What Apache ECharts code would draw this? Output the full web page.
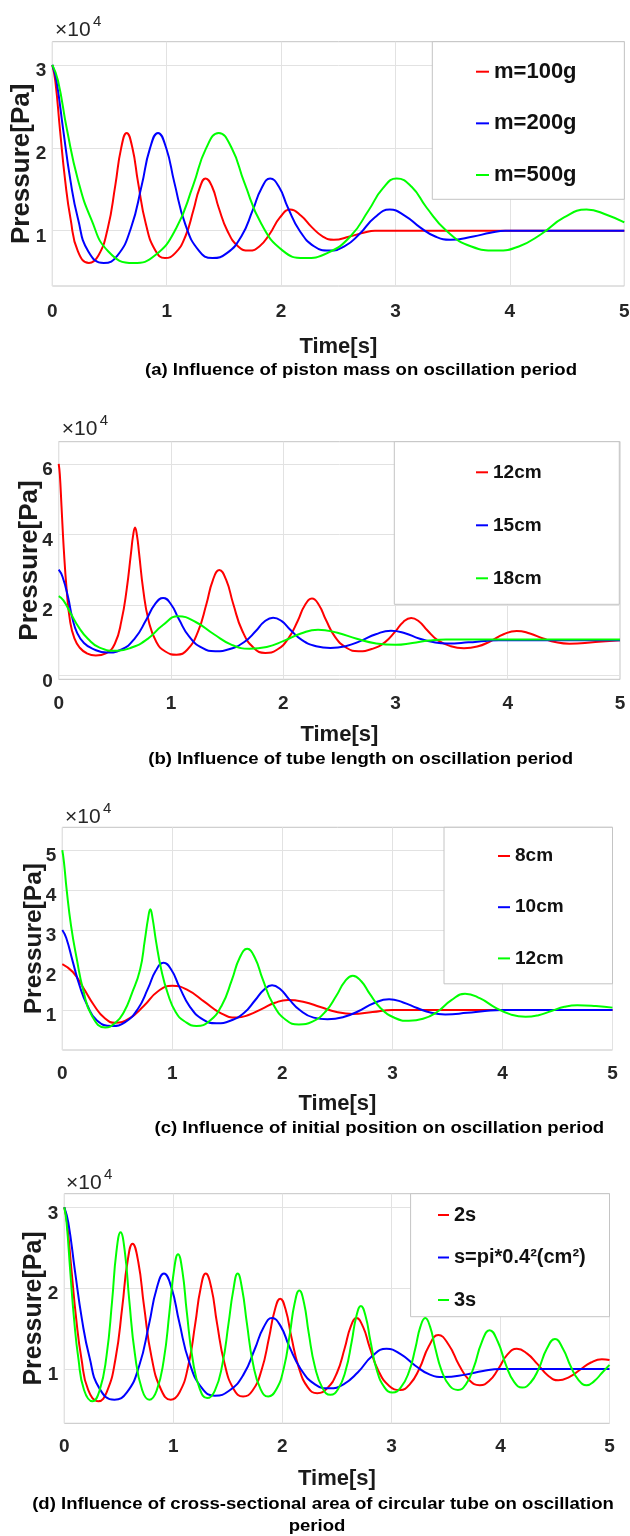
<!DOCTYPE html>
<html>
<head>
<meta charset="utf-8">
<script src="https://cdn.jsdelivr.net/npm/echarts@6/dist/echarts.min.js"></script>
<style>
html,body{margin:0;padding:0;background:#fff;}
#chart{width:630px;height:1536px;}
</style>
</head>
<body>
<div id="chart"></div>
<script>
// ---- values in units of 10^4 Pa, time in s ----
const xTicks = [0, 1, 2, 3, 4, 5];
const yTicksA = [1, 2, 3];
const yTicksB = [0, 2, 4, 6];
const yTicksC = [1, 2, 3, 4, 5];
const yTicksD = [1, 2, 3];

const legendA = ['m=100g', 'm=200g', 'm=500g'];
const legendB = ['12cm', '15cm', '18cm'];
const legendC = ['8cm', '10cm', '12cm'];
const legendD = ['2s', 's=pi*0.4\u00b2(cm\u00b2)', '3s'];

const captions = [
  '(a) Influence of piston mass on oscillation period',
  '(b) Influence of tube length on oscillation period',
  '(c) Influence of initial position on oscillation period',
  '(d) Influence of cross-sectional area of circular tube on oscillation',
  'period'
];

// (a) piston mass
const redA = [[0,3.0],[0.026,2.81],[0.067,2.22],[0.112,1.61],[0.16,1.14],[0.224,0.75],[0.32,0.61],[0.403,0.70],[0.485,1.03],[0.551,1.55],[0.601,1.99],[0.65,2.18],[0.70,2.0],[0.75,1.58],[0.818,1.08],[0.901,0.76],[0.985,0.67],[1.074,0.73],[1.163,0.93],[1.234,1.25],[1.287,1.51],[1.34,1.63],[1.397,1.53],[1.454,1.28],[1.53,1.0],[1.625,0.81],[1.72,0.76],[1.81,0.81],[1.9,0.96],[1.99,1.16],[2.08,1.255],[2.175,1.18],[2.27,1.04],[2.365,0.93],[2.46,0.89],[2.6,0.93],[2.72,0.975],[2.82,1.0],[3.0,1.0],[5.0,1.0]];
const blueA = [[0,3.0],[0.036,2.81],[0.095,2.22],[0.158,1.61],[0.225,1.14],[0.315,0.75],[0.45,0.61],[0.569,0.70],[0.687,1.03],[0.782,1.55],[0.853,1.99],[0.924,2.18],[0.995,2.0],[1.067,1.58],[1.162,1.08],[1.281,0.76],[1.4,0.67],[1.526,0.73],[1.652,0.93],[1.753,1.25],[1.828,1.51],[1.904,1.63],[1.981,1.53],[2.059,1.28],[2.162,1.0],[2.291,0.81],[2.42,0.76],[2.553,0.81],[2.685,0.96],[2.818,1.16],[2.95,1.255],[3.083,1.18],[3.215,1.04],[3.348,0.93],[3.48,0.89],[3.68,0.93],[3.83,0.975],[3.96,1.0],[5.0,1.0]];
const greenA = [[0,3.0],[0.05,2.81],[0.128,2.22],[0.225,1.61],[0.34,1.14],[0.49,0.75],[0.71,0.61],[0.896,0.70],[1.083,1.03],[1.232,1.55],[1.343,1.99],[1.455,2.18],[1.567,2.0],[1.679,1.58],[1.828,1.08],[2.014,0.76],[2.2,0.67],[2.403,0.73],[2.605,0.93],[2.767,1.25],[2.889,1.51],[3.01,1.63],[3.141,1.53],[3.271,1.28],[3.445,1.0],[3.663,0.81],[3.88,0.76],[4.078,0.81],[4.275,0.96],[4.473,1.16],[4.67,1.255],[4.85,1.19],[5.0,1.10]];

// (b) tube length
const redB = [[0,6.0],[0.01,5.7],[0.025,4.8],[0.045,3.6],[0.071,2.43],[0.1,1.57],[0.14,1.05],[0.19,0.78],[0.25,0.63],[0.33,0.57],[0.42,0.63],[0.5,0.9],[0.56,1.57],[0.605,2.43],[0.645,3.5],[0.662,3.95],[0.68,4.2],[0.698,3.95],[0.715,3.5],[0.753,2.43],[0.8,1.57],[0.87,0.95],[0.95,0.68],[1.05,0.59],[1.145,0.73],[1.24,1.24],[1.316,2.03],[1.373,2.7],[1.43,2.99],[1.492,2.71],[1.553,2.05],[1.635,1.27],[1.738,0.78],[1.84,0.64],[1.944,0.73],[2.048,1.06],[2.131,1.56],[2.194,2.0],[2.256,2.18],[2.318,2.0],[2.38,1.58],[2.463,1.09],[2.566,0.78],[2.67,0.69],[2.788,0.75],[2.905,0.94],[2.999,1.25],[3.07,1.52],[3.14,1.63],[3.21,1.53],[3.281,1.29],[3.375,1.005],[3.493,0.83],[3.61,0.775],[3.728,0.82],[3.845,0.97],[3.963,1.17],[4.08,1.265],[4.198,1.19],[4.315,1.05],[4.433,0.94],[4.55,0.9],[4.78,0.95],[5.0,1.0]];
const blueB = [[0,3.0],[0.034,2.8],[0.085,2.2],[0.12,1.65],[0.165,1.2],[0.225,0.92],[0.3,0.76],[0.43,0.65],[0.555,0.73],[0.68,1.06],[0.78,1.58],[0.855,2.01],[0.93,2.2],[1.0,2.02],[1.07,1.6],[1.163,1.1],[1.279,0.78],[1.395,0.69],[1.524,0.75],[1.653,0.95],[1.756,1.26],[1.833,1.53],[1.91,1.64],[1.987,1.54],[2.063,1.3],[2.165,1.01],[2.293,0.83],[2.42,0.78],[2.555,0.83],[2.69,0.98],[2.825,1.17],[2.96,1.27],[3.085,1.2],[3.21,1.05],[3.335,0.95],[3.46,0.91],[3.65,0.94],[3.8,0.98],[3.92,1.0],[5.0,1.0]];
const greenB = [[0,2.25],[0.042,2.13],[0.109,1.75],[0.182,1.35],[0.26,1.04],[0.364,0.79],[0.52,0.70],[0.656,0.80],[0.793,1.04],[0.929,1.43],[1.065,1.68],[1.224,1.51],[1.383,1.17],[1.541,0.87],[1.70,0.76],[1.853,0.81],[2.005,0.98],[2.158,1.19],[2.31,1.30],[2.483,1.21],[2.655,1.04],[2.828,0.91],[3.0,0.87],[3.15,0.92],[3.3,0.99],[3.45,1.02],[5.0,1.02]];

// (c) initial position
const redC = [[0,2.15],[0.096,1.95],[0.192,1.55],[0.288,1.12],[0.384,0.8],[0.48,0.68],[0.61,0.79],[0.74,1.10],[0.87,1.47],[1.0,1.61],[1.145,1.49],[1.29,1.21],[1.435,0.93],[1.58,0.81],[1.698,0.88],[1.815,1.03],[1.933,1.18],[2.05,1.25],[2.198,1.2],[2.345,1.075],[2.493,0.95],[2.64,0.9],[2.82,0.95],[3.0,1.0],[5.0,1.0]];
const blueC = [[0,3.0],[0.036,2.8],[0.095,2.21],[0.158,1.6],[0.225,1.13],[0.315,0.74],[0.45,0.60],[0.568,0.69],[0.685,1.02],[0.779,1.54],[0.849,1.98],[0.92,2.18],[0.992,2.0],[1.064,1.58],[1.16,1.08],[1.28,0.76],[1.40,0.67],[1.527,0.73],[1.653,0.93],[1.754,1.25],[1.83,1.5],[1.906,1.62],[1.982,1.52],[2.058,1.28],[2.158,1.0],[2.284,0.81],[2.41,0.77],[2.55,0.82],[2.69,0.97],[2.83,1.17],[2.97,1.27],[3.098,1.19],[3.225,1.05],[3.353,0.93],[3.48,0.89],[3.68,0.93],[3.84,0.975],[4.0,1.0],[5.0,1.0]];
const greenC = [[0,5.0],[0.015,4.7],[0.04,4.0],[0.08,3.1],[0.13,2.3],[0.19,1.5],[0.27,0.85],[0.39,0.56],[0.49,0.7],[0.56,0.95],[0.63,1.4],[0.706,2.0],[0.75,2.75],[0.78,3.3],[0.80,3.52],[0.82,3.3],[0.85,2.75],[0.90,2.0],[0.96,1.4],[1.03,0.95],[1.11,0.72],[1.22,0.60],[1.335,0.72],[1.45,1.12],[1.542,1.76],[1.611,2.3],[1.68,2.53],[1.751,2.3],[1.821,1.77],[1.915,1.15],[2.033,0.75],[2.15,0.64],[2.273,0.71],[2.395,0.97],[2.493,1.37],[2.567,1.71],[2.64,1.86],[2.717,1.72],[2.793,1.41],[2.895,1.04],[3.023,0.80],[3.15,0.73],[3.278,0.78],[3.405,0.95],[3.533,1.24],[3.66,1.41],[3.798,1.29],[3.935,1.06],[4.073,0.89],[4.21,0.83],[4.328,0.87],[4.445,0.975],[4.563,1.08],[4.68,1.12],[4.85,1.1],[5.0,1.06]];

// (d) cross-sectional area
const redD = [[0,3.0],[0.025,2.81],[0.066,2.22],[0.11,1.61],[0.157,1.13],[0.219,0.74],[0.313,0.6],[0.391,0.72],[0.47,1.13],[0.532,1.77],[0.579,2.32],[0.626,2.55],[0.679,2.32],[0.731,1.78],[0.801,1.14],[0.889,0.74],[0.976,0.62],[1.056,0.71],[1.137,1.04],[1.201,1.56],[1.249,1.99],[1.297,2.18],[1.349,2.0],[1.4,1.57],[1.469,1.07],[1.554,0.75],[1.64,0.66],[1.725,0.73],[1.81,0.99],[1.878,1.39],[1.929,1.72],[1.98,1.87],[2.031,1.73],[2.082,1.40],[2.15,1.02],[2.235,0.77],[2.32,0.70],[2.41,0.76],[2.50,0.95],[2.572,1.26],[2.626,1.52],[2.68,1.63],[2.74,1.52],[2.80,1.27],[2.88,0.98],[2.98,0.79],[3.08,0.74],[3.168,0.81],[3.255,1.0],[3.343,1.28],[3.43,1.42],[3.525,1.30],[3.62,1.05],[3.715,0.86],[3.81,0.80],[3.895,0.85],[3.98,1.0],[4.065,1.18],[4.15,1.25],[4.245,1.19],[4.34,1.06],[4.435,0.92],[4.53,0.86],[4.63,0.9],[4.73,0.99],[4.83,1.08],[4.93,1.12],[5.0,1.11]];
const blueD = [[0,3.0],[0.037,2.81],[0.097,2.22],[0.161,1.62],[0.23,1.15],[0.322,0.76],[0.46,0.62],[0.574,0.71],[0.687,1.04],[0.778,1.56],[0.846,1.99],[0.914,2.18],[0.984,2.0],[1.054,1.58],[1.147,1.08],[1.264,0.76],[1.38,0.67],[1.511,0.73],[1.643,0.93],[1.748,1.25],[1.826,1.51],[1.905,1.63],[1.984,1.53],[2.063,1.28],[2.168,1.0],[2.299,0.81],[2.43,0.76],[2.561,0.81],[2.693,0.96],[2.824,1.16],[2.955,1.25],[3.088,1.18],[3.22,1.04],[3.353,0.93],[3.48,0.90],[3.68,0.93],[3.84,0.975],[4.0,1.0],[5.0,1.0]];
const greenD = [[0,3.0],[0.021,2.81],[0.054,2.22],[0.09,1.61],[0.129,1.13],[0.181,0.74],[0.258,0.6],[0.323,0.73],[0.387,1.16],[0.439,1.85],[0.477,2.44],[0.516,2.69],[0.556,2.44],[0.595,1.86],[0.648,1.18],[0.714,0.74],[0.78,0.62],[0.846,0.73],[0.912,1.11],[0.964,1.70],[1.004,2.20],[1.043,2.42],[1.083,2.21],[1.123,1.71],[1.177,1.12],[1.243,0.75],[1.31,0.64],[1.38,0.73],[1.45,1.06],[1.506,1.56],[1.548,1.96],[1.59,2.18],[1.632,1.98],[1.674,1.57],[1.73,1.07],[1.80,0.75],[1.87,0.66],[1.941,0.74],[2.013,1.01],[2.07,1.45],[2.112,1.81],[2.155,1.97],[2.198,1.82],[2.241,1.45],[2.298,1.03],[2.369,0.76],[2.44,0.68],[2.51,0.75],[2.58,0.98],[2.636,1.34],[2.678,1.65],[2.72,1.78],[2.764,1.65],[2.807,1.35],[2.865,0.99],[2.938,0.77],[3.01,0.71],[3.085,0.77],[3.16,0.96],[3.22,1.26],[3.265,1.52],[3.31,1.63],[3.355,1.52],[3.40,1.27],[3.46,0.98],[3.535,0.79],[3.61,0.74],[3.683,0.81],[3.755,1.02],[3.828,1.33],[3.9,1.48],[3.975,1.34],[4.05,1.05],[4.125,0.84],[4.2,0.77],[4.275,0.83],[4.35,1.0],[4.425,1.25],[4.5,1.37],[4.573,1.25],[4.645,1.03],[4.718,0.86],[4.79,0.80],[4.86,0.85],[4.93,0.95],[5.0,1.05]];

const COLORS = ['#ff0000', '#0000ff', '#00ff00'];
const FONT = '"Liberation Sans", Arial, Helvetica, sans-serif';

// ---- layout (pixels) ----
const panels = [
  { id: 'a', grid: {left: 52.3, top: 41.7, width: 572, height: 244.3}, yMin: 0.333, yMax: 3.28, yTicks: yTicksA,
    xNameGap: 50, labelMargin: 16, yNameGap: 17, yNameSize: 26, names: legendA, data: [redA, blueA, greenA],
    legend: {left: 432.3, top: 41.7, itemWidth: 13, itemGap: 29.65, fontSize: 22, lh: 22, padding: [19, 47.8, 13.3, 43.7]} },
  { id: 'b', grid: {left: 58.7, top: 441.7, width: 561.3, height: 237.6}, yMin: -0.108, yMax: 6.63, yTicks: yTicksB,
    xNameGap: 45, labelMargin: 15, yNameGap: 16, yNameSize: 26, names: legendB, data: [redB, blueB, greenB],
    legend: {left: 394.3, top: 441.7, itemWidth: 12, itemGap: 33, fontSize: 19, lh: 20, padding: [20.6, 77.7, 16, 81.7]} },
  { id: 'c', grid: {left: 62.3, top: 827.3, width: 550.2, height: 222.7}, yMin: 0, yMax: 5.57, yTicks: yTicksC,
    xNameGap: 43, labelMargin: 14, yNameGap: 16, yNameSize: 24.5, names: legendC, data: [redC, blueC, greenC],
    legend: {left: 444, top: 827.3, itemWidth: 12, itemGap: 31.2, fontSize: 19, lh: 20, padding: [18.7, 48.9, 15.4, 54]} },
  { id: 'd', grid: {left: 64.3, top: 1193.7, width: 545.2, height: 229.6}, yMin: 0.328, yMax: 3.168, yTicks: yTicksD,
    xNameGap: 45, labelMargin: 14, yNameGap: 18, yNameSize: 25, names: legendD, data: [redD, blueD, greenD],
    legend: {left: 410.6, top: 1193.7, itemWidth: 11, itemGap: 22.5, fontSize: 20, lh: 20, padding: [11.3, 23.8, 6.7, 27.4]} }
];

const option = {
  backgroundColor: '#ffffff',
  animation: false,
  textStyle: {fontFamily: FONT},
  grid: [], xAxis: [], yAxis: [], series: [], legend: [], graphic: []
};

panels.forEach((p, i) => {
  option.grid.push(Object.assign({show: true, borderColor: '#c4c4c4', borderWidth: 1, backgroundColor: 'transparent',
    containLabel: false, outerBoundsMode: 'none'}, p.grid));
  option.xAxis.push({
    type: 'value', gridIndex: i, min: xTicks[0], max: xTicks[xTicks.length - 1], interval: 1,
    name: 'Time[s]', nameLocation: 'middle', nameGap: p.xNameGap,
    nameTextStyle: {fontSize: 22, fontWeight: 'bold', color: '#1a1a1a', fontFamily: FONT},
    axisLine: {show: false}, axisTick: {show: false},
    axisLabel: {fontSize: 19, fontWeight: 'bold', color: '#262626', margin: p.labelMargin, fontFamily: FONT},
    splitLine: {show: true, lineStyle: {color: '#e2e2e2', width: 1}}
  });
  option.yAxis.push({
    type: 'value', gridIndex: i, min: p.yMin, max: p.yMax,
    name: 'Pressure[Pa]', nameLocation: 'middle', nameGap: p.yNameGap, nameMoveOverlap: false,
    nameTextStyle: {fontSize: p.yNameSize, fontWeight: 'bold', color: '#1a1a1a', fontFamily: FONT},
    axisLine: {show: false},
    axisTick: {show: false, customValues: p.yTicks},
    axisLabel: {customValues: p.yTicks, fontSize: 19, fontWeight: 'bold', color: '#262626', margin: 6,
      verticalAlign: 'top', lineHeight: 12, fontFamily: FONT},
    splitLine: {show: true, lineStyle: {color: '#e2e2e2', width: 1}}
  });
  const sNames = p.names.map(n => p.id + '|' + n);
  p.data.forEach((d, k) => {
    option.series.push({
      type: 'line', name: sNames[k], xAxisIndex: i, yAxisIndex: i, data: d,
      showSymbol: false, symbol: 'none', smooth: 0.5,
      lineStyle: {color: COLORS[k], width: 2}, itemStyle: {color: COLORS[k]},
      emphasis: {disabled: true}, z: 2 + k
    });
  });
  const L = p.legend;
  option.legend.push({
    data: sNames, left: L.left, top: L.top, orient: 'vertical',
    icon: 'rect', itemWidth: L.itemWidth, itemHeight: 2, itemGap: L.itemGap,
    padding: L.padding, backgroundColor: '#ffffff', borderColor: '#c4c4c4', borderWidth: 1, borderRadius: 0,
    selectedMode: false,
    formatter: name => name.split('|')[1],
    textStyle: {fontSize: L.fontSize, fontWeight: 'bold', color: '#111111', lineHeight: L.lh, fontFamily: FONT}
  });
});

// exponent annotations "×10^4"
const expPos = [[55, 30], [61.7, 429], [65, 817], [66, 1183]];
expPos.forEach(([x, y]) => {
  option.graphic.push({type: 'text', x: x, y: y, silent: true,
    style: {text: '\u00d710', fontSize: 21, fontFamily: FONT, fill: '#262626', align: 'left', verticalAlign: 'middle'}});
  option.graphic.push({type: 'text', x: x + 38, y: y - 8.5, silent: true,
    style: {text: '4', fontSize: 15, fontFamily: FONT, fill: '#262626', align: 'left', verticalAlign: 'middle'}});
});

// captions
const capPos = [[361, 370.5], [360.6, 760], [379.3, 1128.3], [323, 1505], [317, 1526.7]];
captions.forEach((t, i) => {
  option.graphic.push({type: 'text', x: capPos[i][0], y: capPos[i][1], scaleX: 1.16, silent: true,
    style: {text: t, fontSize: 16, fontWeight: 'bold', fontFamily: FONT, fill: '#000000', align: 'center', verticalAlign: 'middle'}});
});

const chart = echarts.init(document.getElementById('chart'), null, {renderer: 'canvas', width: 630, height: 1536});
chart.setOption(option);
</script>
</body>
</html>
